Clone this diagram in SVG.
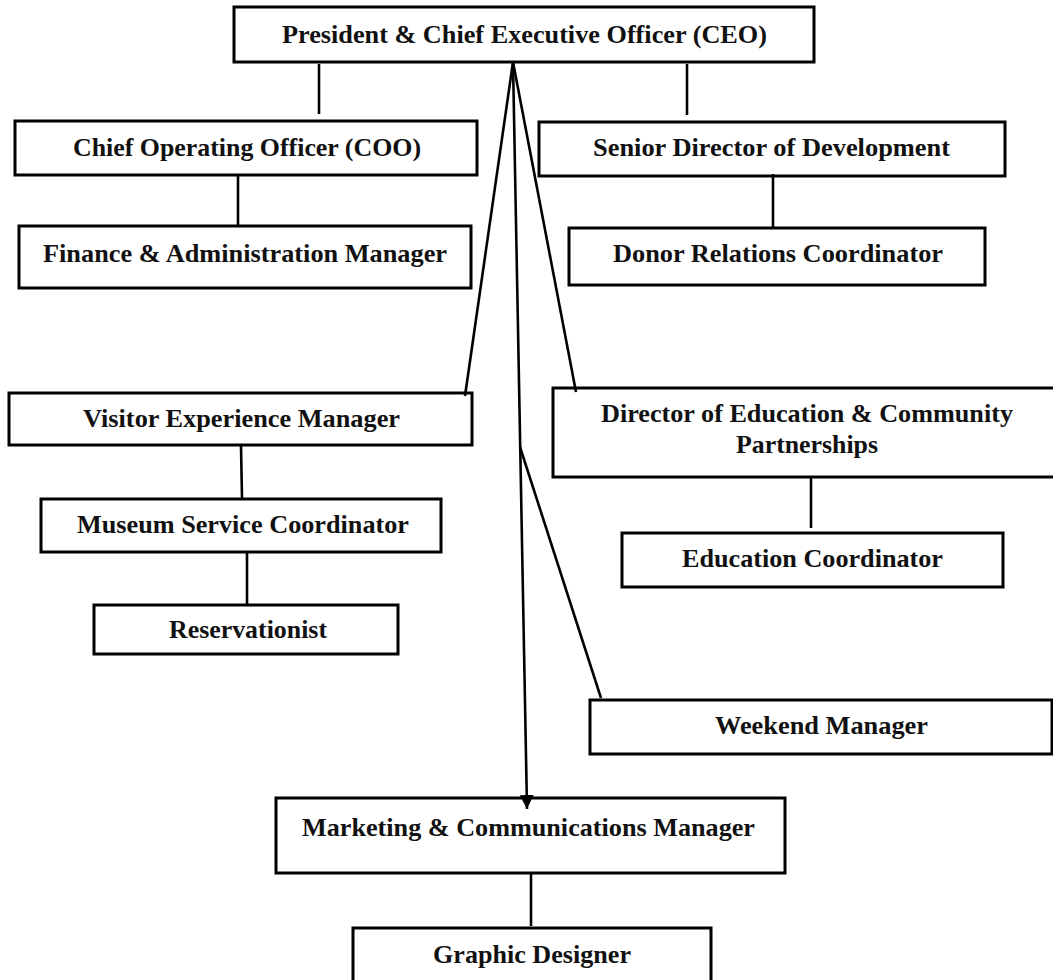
<svg xmlns="http://www.w3.org/2000/svg" width="1053" height="980" viewBox="0 0 1053 980">
<style>
.box{fill:#fff;stroke:#000;stroke-width:3}
.lbl{font-family:"Liberation Serif","Times New Roman",serif;font-weight:bold;font-size:26px;fill:#111}
.ln{stroke:#000;stroke-width:2.6;fill:none}
</style>
<defs>
<marker id="arr" markerUnits="userSpaceOnUse" markerWidth="16" markerHeight="16" refX="14" refY="7" orient="auto">
<path d="M0,0 L14,7 L0,14 Z" fill="#000"/>
</marker>
</defs>
<rect width="1053" height="980" fill="#fff"/>
<g id="ceo"><rect class="box" x="234" y="7" width="580" height="55"/><text class="lbl" x="282" y="43" textLength="485" lengthAdjust="spacingAndGlyphs">President &amp; Chief Executive Officer (CEO)</text></g>
<g id="coo"><rect class="box" x="15" y="121" width="462" height="54"/><text class="lbl" x="73" y="156" textLength="348" lengthAdjust="spacingAndGlyphs">Chief Operating Officer (COO)</text></g>
<g id="finance"><rect class="box" x="19" y="226" width="452" height="62"/><text class="lbl" x="43" y="262" textLength="404" lengthAdjust="spacingAndGlyphs">Finance &amp; Administration Manager</text></g>
<g id="senior-director"><rect class="box" x="539" y="122" width="466" height="54"/><text class="lbl" x="593" y="156" textLength="357" lengthAdjust="spacingAndGlyphs">Senior Director of Development</text></g>
<g id="donor"><rect class="box" x="569" y="228" width="416" height="57"/><text class="lbl" x="613" y="262" textLength="330" lengthAdjust="spacingAndGlyphs">Donor Relations Coordinator</text></g>
<g id="visitor"><rect class="box" x="9" y="393" width="463" height="52"/><text class="lbl" x="83" y="427" textLength="317" lengthAdjust="spacingAndGlyphs">Visitor Experience Manager</text></g>
<g id="museum"><rect class="box" x="41" y="499" width="400" height="53"/><text class="lbl" x="77" y="533" textLength="332" lengthAdjust="spacingAndGlyphs">Museum Service Coordinator</text></g>
<g id="reservationist"><rect class="box" x="94" y="605" width="304" height="49"/><text class="lbl" x="169" y="638" textLength="158" lengthAdjust="spacingAndGlyphs">Reservationist</text></g>
<g id="director-education"><rect class="box" x="553" y="388" width="510" height="89"/><text class="lbl" x="601" y="422" textLength="412" lengthAdjust="spacingAndGlyphs">Director of Education &amp; Community</text><text class="lbl" x="736" y="453" textLength="142" lengthAdjust="spacingAndGlyphs">Partnerships</text></g>
<g id="education-coordinator"><rect class="box" x="622" y="533" width="381" height="54"/><text class="lbl" x="682" y="567" textLength="261" lengthAdjust="spacingAndGlyphs">Education Coordinator</text></g>
<g id="weekend"><rect class="box" x="590" y="700" width="462" height="54"/><text class="lbl" x="715" y="734" textLength="213" lengthAdjust="spacingAndGlyphs">Weekend Manager</text></g>
<g id="marketing"><rect class="box" x="276" y="798" width="509" height="75"/><text class="lbl" x="302" y="836" textLength="453" lengthAdjust="spacingAndGlyphs">Marketing &amp; Communications Manager</text></g>
<g id="graphic"><rect class="box" x="353" y="928" width="358" height="70"/><text class="lbl" x="433" y="963" textLength="198" lengthAdjust="spacingAndGlyphs">Graphic Designer</text></g>
<g id="connectors">
<line class="ln" x1="319" y1="64" x2="319" y2="114"/>
<line class="ln" x1="687" y1="64" x2="687" y2="115"/>
<line class="ln" x1="238" y1="176" x2="238" y2="226"/>
<line class="ln" x1="773" y1="174" x2="773" y2="227"/>
<line class="ln" x1="513" y1="62" x2="465" y2="396"/>
<line class="ln" x1="513" y1="62" x2="576" y2="392"/>
<line class="ln" x1="513" y1="62" x2="527" y2="809" marker-end="url(#arr)"/>
<line class="ln" x1="520" y1="447" x2="601" y2="698"/>
<line class="ln" x1="241" y1="446" x2="242" y2="498"/>
<line class="ln" x1="247" y1="552" x2="247" y2="604"/>
<line class="ln" x1="811" y1="477" x2="811" y2="528"/>
<line class="ln" x1="531" y1="873" x2="531" y2="926"/>
</g>
</svg>
